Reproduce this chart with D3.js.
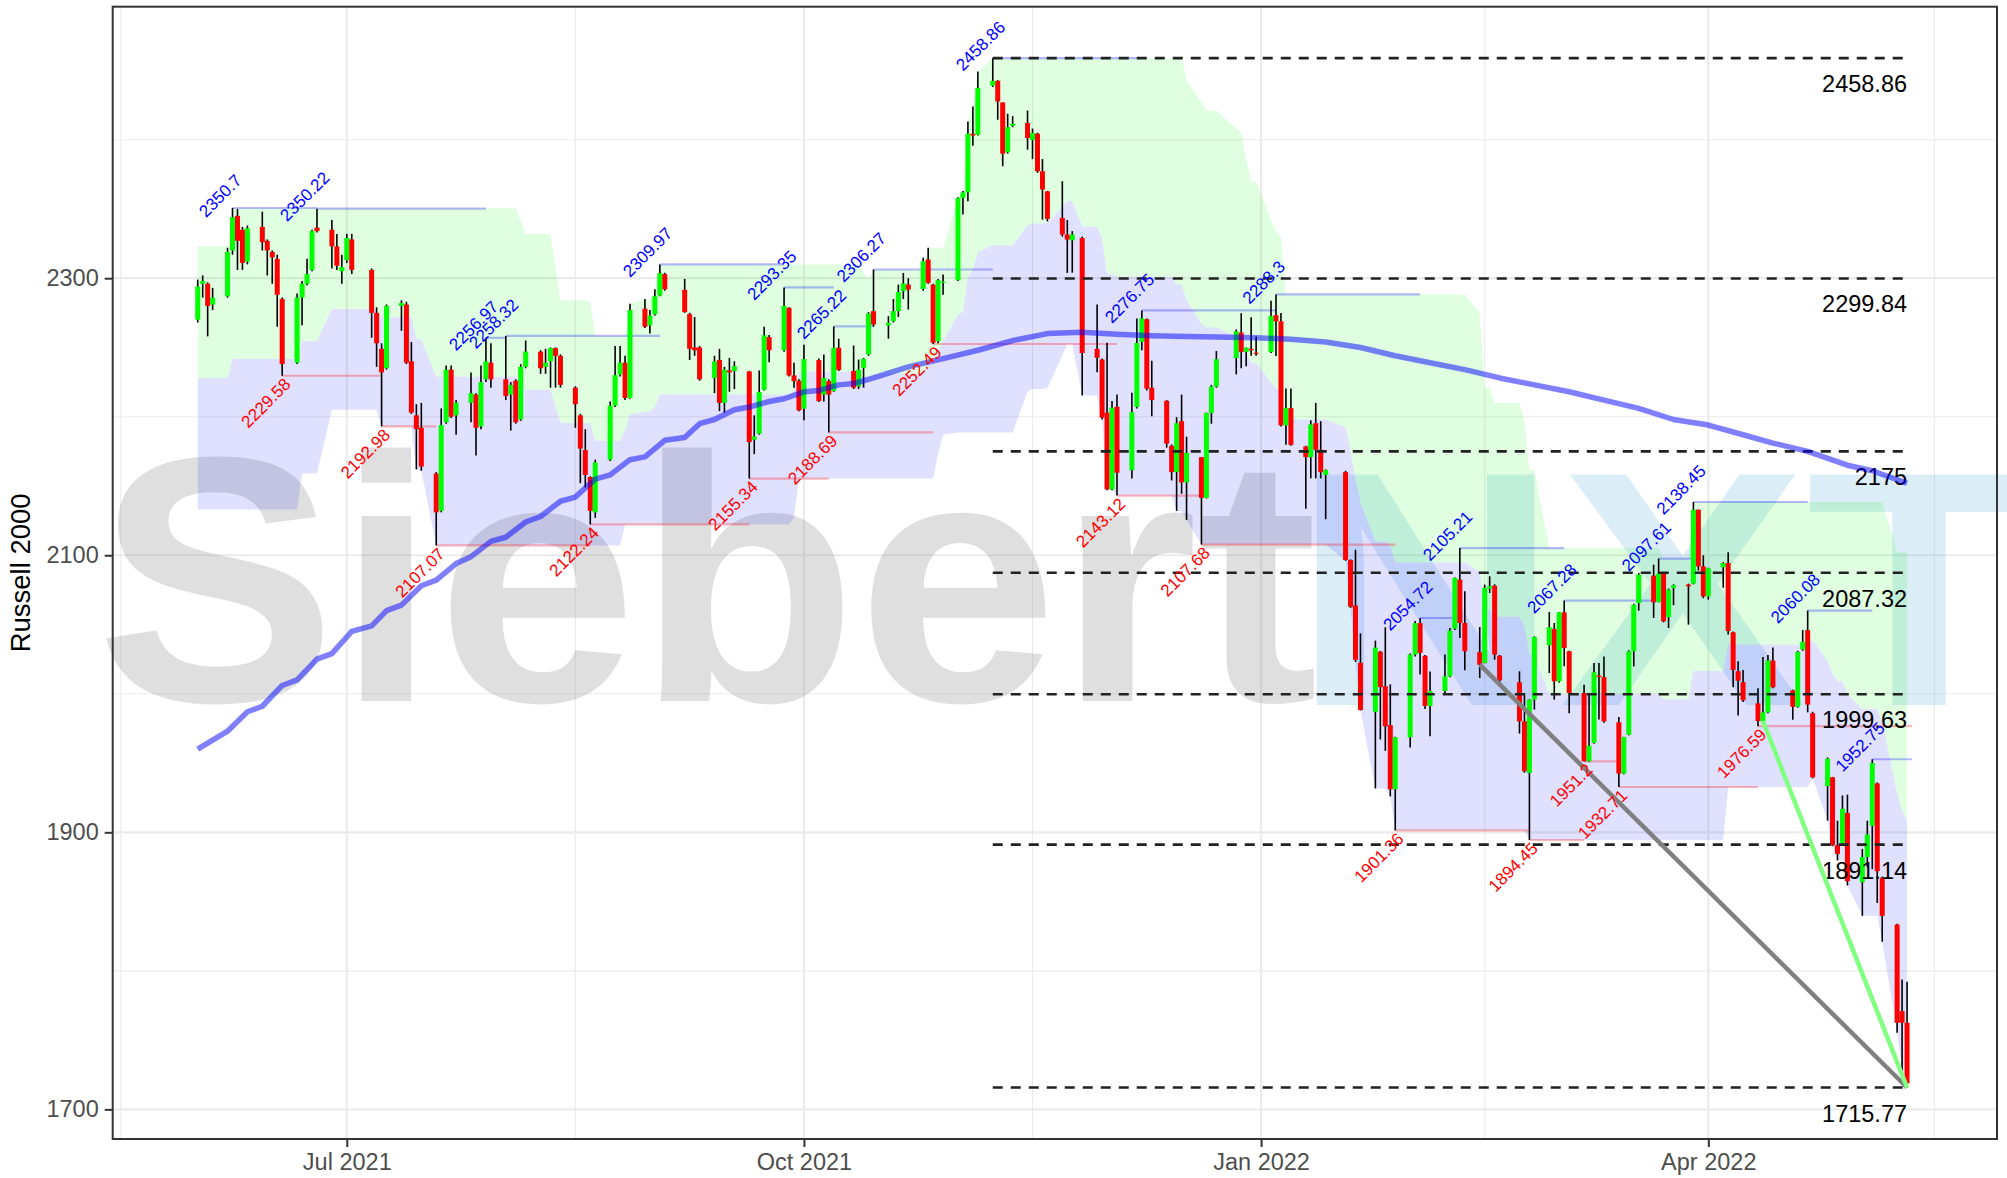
<!DOCTYPE html>
<html><head><meta charset="utf-8">
<script src="https://cdn.jsdelivr.net/npm/d3@7"></script>
<style>html,body{margin:0;padding:0;background:#fff;}svg{display:block;}</style>
</head><body>
<svg id="chart" width="2007" height="1178"></svg>
<script>
// ---------------- DATA ----------------
const dates = [
"2021-06-01","2021-06-02","2021-06-03","2021-06-04","2021-06-07","2021-06-08","2021-06-09","2021-06-10","2021-06-11","2021-06-14","2021-06-15","2021-06-16","2021-06-17","2021-06-18","2021-06-21","2021-06-22","2021-06-23","2021-06-24","2021-06-25","2021-06-28","2021-06-29","2021-06-30",
"2021-07-01","2021-07-02","2021-07-06","2021-07-07","2021-07-08","2021-07-09","2021-07-12","2021-07-13","2021-07-14","2021-07-15","2021-07-16","2021-07-19","2021-07-20","2021-07-21","2021-07-22","2021-07-23","2021-07-26","2021-07-27","2021-07-28","2021-07-29","2021-07-30",
"2021-08-02","2021-08-03","2021-08-04","2021-08-05","2021-08-06","2021-08-09","2021-08-10","2021-08-11","2021-08-12","2021-08-13","2021-08-16","2021-08-17","2021-08-18","2021-08-19","2021-08-20","2021-08-23","2021-08-24","2021-08-25","2021-08-26","2021-08-27","2021-08-30","2021-08-31",
"2021-09-01","2021-09-02","2021-09-03","2021-09-07","2021-09-08","2021-09-09","2021-09-10","2021-09-13","2021-09-14","2021-09-15","2021-09-16","2021-09-17","2021-09-20","2021-09-21","2021-09-22","2021-09-23","2021-09-24","2021-09-27","2021-09-28","2021-09-29","2021-09-30",
"2021-10-01","2021-10-04","2021-10-05","2021-10-06","2021-10-07","2021-10-08","2021-10-11","2021-10-12","2021-10-13","2021-10-14","2021-10-15","2021-10-18","2021-10-19","2021-10-20","2021-10-21","2021-10-22","2021-10-25","2021-10-26","2021-10-27","2021-10-28","2021-10-29",
"2021-11-01","2021-11-02","2021-11-03","2021-11-04","2021-11-05","2021-11-08","2021-11-09","2021-11-10","2021-11-11","2021-11-12","2021-11-15","2021-11-16","2021-11-17","2021-11-18","2021-11-19","2021-11-22","2021-11-23","2021-11-24","2021-11-26","2021-11-29","2021-11-30",
"2021-12-01","2021-12-02","2021-12-03","2021-12-06","2021-12-07","2021-12-08","2021-12-09","2021-12-10","2021-12-13","2021-12-14","2021-12-15","2021-12-16","2021-12-17","2021-12-20","2021-12-21","2021-12-22","2021-12-23","2021-12-27","2021-12-28","2021-12-29","2021-12-30","2021-12-31",
"2022-01-03","2022-01-04","2022-01-05","2022-01-06","2022-01-07","2022-01-10","2022-01-11","2022-01-12","2022-01-13","2022-01-14","2022-01-18","2022-01-19","2022-01-20","2022-01-21","2022-01-24","2022-01-25","2022-01-26","2022-01-27","2022-01-28","2022-01-31",
"2022-02-01","2022-02-02","2022-02-03","2022-02-04","2022-02-07","2022-02-08","2022-02-09","2022-02-10","2022-02-11","2022-02-14","2022-02-15","2022-02-16","2022-02-17","2022-02-18","2022-02-22","2022-02-23","2022-02-24","2022-02-25","2022-02-28",
"2022-03-01","2022-03-02","2022-03-03","2022-03-04","2022-03-07","2022-03-08","2022-03-09","2022-03-10","2022-03-11","2022-03-14","2022-03-15","2022-03-16","2022-03-17","2022-03-18","2022-03-21","2022-03-22","2022-03-23","2022-03-24","2022-03-25","2022-03-28","2022-03-29","2022-03-30","2022-03-31",
"2022-04-01","2022-04-04","2022-04-05","2022-04-06","2022-04-07","2022-04-08","2022-04-11","2022-04-12","2022-04-13","2022-04-14","2022-04-18","2022-04-19","2022-04-20","2022-04-21","2022-04-22","2022-04-25","2022-04-26","2022-04-27","2022-04-28","2022-04-29",
"2022-05-02","2022-05-03","2022-05-04","2022-05-05","2022-05-06","2022-05-09","2022-05-10","2022-05-11"];

const opens = [
2270,2296,2296,2281,2287,2320,2345,2335,2312,2337,2327,2319,2314,2285,2239,2286,2296,2306,2336.5,2335,2323,2305,
2313,2328,2306,2275,2249,2235,2280,2281,2240,2201,2192,2159,2132,2196,2234,2201,2210,2216,2193,2227,2239,
2227,2216,2226,2198,2236,2247,2236,2240,2249.5,2244,2221,2201,2176,2156.5,2131,2169,2208,2230.5,2239,2213.5,2278,2266,
2274,2287.5,2303,2291.6,2274,2250,2250,2228,2241,2210,2233.5,2233,2232.7,2183.4,2187.7,2219.5,2257.5,2248,2278.6,2229.8,2226,
2205.8,2240.9,2216,2225.7,2218.5,2249.8,2233,2222,2235.3,2245,2276.2,2265.9,2269,2276.2,2290.6,2295.4,2292.3,2313.5,2295.4,2254.6,2297,
2298.6,2358,2362,2404.3,2403.6,2439,2442.5,2426.9,2391,2410,2412,2399.8,2404.3,2377.2,2362.7,2343.5,2331.5,2327.4,2329,2249,2241.3,
2203,2147.6,2207.2,2161.4,2207,2254,2270.4,2220.9,2211.5,2179,2160,2196.8,2152.6,2170.8,2141.4,2202.7,2221.8,2242.4,2260.7,2246.8,2249,2246.2,
2246.8,2273.3,2268.9,2193.8,2206.2,2178.5,2170.8,2195.3,2176.2,2158,2160,2096.6,2063.7,2022.4,1987,2030.4,2005.4,1977.4,1931.1,1968.6,
2028.3,2051,2027.4,1991.2,2002,2012.6,2047,2082.4,2051.1,2030,2022.2,2076,2078,2027.5,2008.3,1980.1,1942.9,1995.8,2035,
2046.8,2009,2058.8,2030.7,2000.6,1951.3,1964.5,2013.1,2012,1979.4,1942.4,1970.5,2030.7,2065.5,2085.3,2066.3,2086.7,2055.3,2076.4,2078.8,2079.5,2132.9,2092,
2070.3,2091.3,2094.4,2044.4,2016.3,2008.4,1993.1,1980.3,1986.6,2024,2002.5,1990.6,2031.9,2046,1986,1933.4,1939.7,1890.6,1892.2,1914,
1864,1882.2,1904.7,1935.3,1867.2,1833.4,1770.9,1762.5];

const highs = [
2299,2302,2297,2293,2322,2350.7,2350,2337,2338,2348,2328,2320,2317,2286,2289,2298,2314,2335,2350.22,2342,2332,2317,
2332,2332,2307,2279,2253,2281,2284,2283,2254,2209,2210,2160,2206,2237,2237,2212,2232,2217,2237,2256.97,2253,
2258.32,2225,2227,2238,2255,2248,2249,2250,2250,2245,2222,2202,2191,2157,2169,2211,2251,2251,2244,2281.5,2285,2277,
2292,2309.97,2304,2299.5,2275,2272,2251,2244,2249,2236,2242.5,2240,2233,2201,2233.4,2265,2259,2293.35,2279,2239,2227,
2252,2242,2245,2227,2265.22,2256.3,2251.4,2241.3,2242.5,2275.5,2306.27,2272.6,2285,2295.4,2303.8,2300,2314.7,2321.9,2296,2299.5,2302.6,
2358.5,2363,2413.2,2424,2449.3,2458.86,2443,2427,2418.7,2417,2421,2408,2405,2386,2363,2370,2342,2334,2330,2281,2242,
2253.4,2211.3,2216,2217.4,2271,2276.75,2271,2240.4,2212,2180,2199.7,2216,2185.6,2171,2203,2223,2247.4,2263,2274.8,2250,2271.9,2258,
2283.7,2288.3,2274.8,2220.3,2220.3,2179,2197.4,2210,2196.8,2162,2161,2097,2104,2043.6,2038.4,2031,2048,2006.8,1969,2029,
2052.5,2054.72,2028,2016,2028.3,2047.5,2084,2105.21,2074,2048.2,2078.8,2084.8,2079,2028,2016.2,2000.6,1996,2041.5,2059,
2051.1,2059,2067.28,2031,2006.6,2000.6,2022.2,2022.2,2027,1983.3,1969,2031.4,2065,2087.2,2093.2,2097.61,2087,2076,2079,2079.5,2138.45,2133,2100,
2091,2095,2102.2,2045,2023.4,2017.2,2004,2026.6,2028,2033.4,2003,2031,2046,2060.08,1987,1954,1940,1908.4,1926.6,1927.2,
1888,1908.4,1952.75,1936,1868,1834,1793.7,1792.2];

const lows = [
2268,2286,2258,2277,2286,2317,2306,2306,2310,2320,2302,2296,2265,2229.58,2238,2266,2295,2305,2333,2307,2306,2296,
2311,2303,2257,2236,2192.98,2234,2262,2238,2202,2162,2161,2107.07,2131,2195,2199,2187,2196,2172,2191,2225,2221,
2212,2190,2195,2197,2235,2231,2231,2221,2221,2221,2192,2152,2149,2122.24,2127,2168,2207,2229,2212,2213,2264,2260,
2273,2287,2291,2275,2241,2244,2226,2217,2204,2203,2218,2220,2155.34,2173,2187,2219,2239.4,2247,2229,2221,2204,
2197.5,2210.6,2211,2188.69,2218,2233,2220,2220,2221,2244,2265,2256.3,2268,2272,2285,2277.4,2291,2296,2252.49,2253,2288,
2298,2346,2355.5,2395.7,2403,2438,2414.4,2380.8,2390,2409,2392.8,2386,2376,2342.3,2341,2330,2303.8,2304,2215.4,2232.2,2198,
2147,2147,2143.12,2155.5,2206,2248,2219,2200.3,2177.7,2154,2132,2144.4,2125.5,2107.68,2141,2195,2221,2230.6,2235,2236.5,2244,2244,
2246,2243.9,2193,2179.7,2179,2133.5,2155.5,2155.5,2155.5,2126,2096,2062,2023,1988,1931.7,1967,1958.8,1925.9,1901.36,1961.2,
2027,2014,1989,1969.3,2000.6,2012,2046,2040.3,2017,2011.4,2022,2072.8,2024.6,2005.4,1971.3,1943,1894.45,1988.6,2015,
1995.8,2008,2019.8,1986,1951.2,1951,1964,1981.4,1979,1932.71,1942,1970,2019.8,2060,2054.7,2066,2051.6,2047.5,2064,2049.9,2079,2089,2069,
2068,2076.6,2042.8,2004.7,1984.4,1994,1976.59,1980,1986,2004,1981.3,1990,2031,1986.6,1939,1908.4,1890,1879.7,1891,1861.6,
1839.7,1875,1873.4,1849,1821,1755.3,1727.8,1715.77];

const closes = [
2294,2298,2280,2286,2319,2344,2327,2311,2336,2326,2320,2315,2288,2238,2286,2296,2303,2334,2334,2323,2309,2308,
2329,2306,2275,2253,2232,2280,2282,2239,2203,2191,2164,2131,2194,2234,2200,2210,2217,2192,2225,2240,2227,
2215,2223,2196,2236,2247,2235,2239,2249.5,2244,2223,2209,2177,2158,2132,2167,2208,2230,2239,2213.5,2277,2265,2273,
2287,2303.6,2292,2275.5,2249,2248,2227,2240,2210,2234,2232,2236.5,2181.7,2185.8,2217.8,2258.7,2248,2280,2229.8,2225.7,2204.6,
2241.5,2211.3,2228,2216,2249.8,2233.7,2221,2234,2241.8,2274.5,2266.6,2267.8,2276.2,2290,2296.2,2291.8,2312.3,2296.6,2253.4,2298.6,2297.6,
2357.9,2362,2404.3,2403,2437.3,2442.5,2427.6,2389.9,2409,2411.5,2401.2,2404.8,2377.2,2364,2342.8,2331.5,2327.9,2331.5,2246,2242.5,2199.3,
2147.6,2206.5,2159.6,2203.3,2253.3,2271,2220.3,2212,2180.6,2160,2195.3,2152.6,2173.8,2141.4,2202.7,2221.8,2241.5,2261.6,2246.8,2249.8,2248,2245.3,
2272.7,2268.9,2193.8,2206.2,2179.7,2170.8,2194.4,2176.2,2160,2161.5,2096.6,2062.8,2024.5,1988.3,2033.3,2004.8,1976.5,1931.1,1968.6,2028.3,
2051,2029.5,1991.2,2002,2012.6,2045.6,2083.6,2051.1,2030.7,2021,2076.4,2077.6,2028.3,2009.7,1980.1,1944.1,1995.8,2041,2048,
2009,2058.8,2033,2000.6,1951.3,1962.6,2015.5,2012,1980.1,1942.4,1968.8,2030.7,2064.3,2086,2066,2086.7,2052.3,2075.2,2078.4,2077.6,2132.9,2092,2070.3,
2090.6,2094.4,2045.3,2017.2,2009.4,1995.3,1980.3,1986.6,2024,2004.7,1990.6,2030.3,2037.5,1992.2,1939.7,1953.1,1890.6,1884.4,1917,1864.7,
1882.2,1898.4,1950,1871.9,1839.7,1762.5,1762.5,1718.7];

const upperDates = ["2021-06-01","2021-06-08","2021-08-05","2021-08-06","2021-08-12","2021-08-13","2021-08-19","2021-08-20","2021-08-27","2021-08-30","2021-09-01","2021-09-02","2021-10-13","2021-10-14","2021-10-15","2021-10-26","2021-11-01","2021-11-02","2021-11-03","2021-11-04","2021-11-05","2021-11-08","2021-12-17","2021-12-20","2021-12-21","2021-12-27","2021-12-28","2021-12-29","2021-12-30","2022-01-03","2022-01-04","2022-01-05","2022-01-06","2022-02-14","2022-02-15","2022-02-17","2022-02-23","2022-02-24","2022-02-25","2022-02-28","2022-03-23","2022-03-29","2022-05-09"];
const upperValues = [2323,2350.5,2342,2332,2307,2284,2283,2258.32,2281.5,2285,2292,2309.97,2304,2299.5,2306.27,2321.9,2358.5,2363,2413.2,2424,2449.3,2458.86,2443,2427,2421,2408,2405,2386,2370,2342,2334,2330,2288.3,2274.8,2220.3,2210,2196.8,2162,2161,2105.21,2097.61,2138.45,2102.2];
const lowerDates = ["2021-06-01","2021-06-22","2021-06-28","2021-07-08","2021-07-15","2021-07-16","2021-07-19","2021-08-26","2021-09-29","2021-09-30","2021-10-28","2021-10-29","2021-11-01","2021-11-15","2021-11-16","2021-11-19","2021-11-22","2021-11-23","2021-11-26","2021-11-30","2021-12-01","2021-12-03","2021-12-15","2021-12-17","2021-12-20","2022-01-18","2022-01-19","2022-01-20","2022-01-21","2022-01-24","2022-01-27","2022-01-28","2022-02-24","2022-04-05","2022-04-22","2022-04-25","2022-04-26","2022-04-27","2022-04-29","2022-05-02","2022-05-06","2022-05-09","2022-05-10","2022-05-11"];
const lowerValues = [2133,2159,2205,2192.98,2162,2161,2107.07,2122.24,2127,2155.34,2173,2187,2188.69,2218,2220,2221,2244,2252.49,2215.4,2198,2147,2143.12,2132,2125.5,2107.68,2096,2062,2023,1988,1931.7,1925.9,1901.36,1894.45,1932.71,1939,1908.4,1890,1879.7,1861.6,1839.7,1821,1755.3,1727.8,1715.77];

// moving average (blue line)
const maDates = ["2021-06-01","2021-06-07","2021-06-11","2021-06-14","2021-06-18","2021-06-21","2021-06-25","2021-06-28","2021-07-02","2021-07-06","2021-07-09","2021-07-12","2021-07-16","2021-07-19","2021-07-23","2021-07-26","2021-07-30","2021-08-02","2021-08-06","2021-08-09","2021-08-13","2021-08-16","2021-08-20","2021-08-23","2021-08-27","2021-08-30","2021-09-03","2021-09-07","2021-09-10","2021-09-13","2021-09-17","2021-09-20","2021-09-24","2021-09-27","2021-10-01","2021-10-04","2021-10-08","2021-10-11","2021-10-15","2021-10-22","2021-10-29","2021-11-05","2021-11-12","2021-11-19","2021-11-26","2021-12-03","2021-12-10","2021-12-17","2021-12-23","2021-12-31","2022-01-07","2022-01-14","2022-01-21","2022-01-28","2022-02-04","2022-02-11","2022-02-18","2022-02-25","2022-03-04","2022-03-11","2022-03-18","2022-03-25","2022-04-01","2022-04-08","2022-04-14","2022-04-21","2022-04-29","2022-05-04","2022-05-11"];
const maValues = [1960,1973,1987,1991,2006,2010,2025,2029,2045,2049,2060,2064,2078,2082,2094,2099,2110,2113,2124,2128,2139,2142,2155,2158,2169,2171,2183,2185,2195,2198,2205,2207,2211,2213,2218,2219,2223,2224,2228,2236,2242,2248,2255,2260,2261,2259.5,2258.5,2258,2257.5,2257,2256,2254,2250,2244,2239,2234,2228,2223,2218,2212,2206,2198,2194,2187,2181,2175,2165,2161,2152];

// swing highs / lows
const highLabelDates = ["2021-06-08","2021-06-25","2021-07-29","2021-08-02","2021-09-02","2021-09-27","2021-10-07","2021-10-15","2021-11-08","2021-12-08","2022-01-04","2022-02-02","2022-02-10","2022-03-03","2022-03-22","2022-03-29","2022-04-21","2022-05-04"];
const highLabelValues = [2350.7,2350.22,2256.97,2258.32,2309.97,2293.35,2265.22,2306.27,2458.86,2276.75,2288.3,2054.72,2105.21,2067.28,2097.61,2138.45,2060.08,1952.75];
const lowLabelDates = ["2021-06-18","2021-07-08","2021-07-19","2021-08-19","2021-09-20","2021-10-06","2021-10-27","2021-12-03","2021-12-20","2022-01-28","2022-02-24","2022-03-07","2022-03-14","2022-04-11"];
const lowLabelValues = [2229.58,2192.98,2107.07,2122.24,2155.34,2188.69,2252.49,2143.12,2107.68,1901.36,1894.45,1951.2,1932.71,1976.59];

// Fibonacci retracement levels
const fibLevels = [2458.86,2299.84,2175,2087.32,1999.63,1891.14,1715.77];
const fibLabels = ["2458.86","2299.84","2175","2087.32","1999.63","1891.14","1715.77"];
const fibStart = "2021-11-08", fibEnd = "2022-05-11";

// trend lines
const trendGray = [["2022-02-14",2021],["2022-05-11",1715.77]];
const trendGreen = [["2022-04-12",1980.3],["2022-05-11",1715.77]];

// axes
const yTicks = [1700,1900,2100,2300];
const yMinor = [1800,2000,2200,2400];
const xTicks = ["2021-07-01","2021-10-01","2022-01-01","2022-04-01"];
const xMinor = ["2021-05-16T12","2021-08-16","2021-11-16","2022-02-15","2022-05-16T12"];

// ---------------- DRAW ----------------
const parse = d3.utcParse("%Y-%m-%d");
const parseX = s => s.length > 10 ? d3.utcParse("%Y-%m-%dT%H")(s) : parse(s);
const DAY = 864e5;
const jul1 = Date.UTC(2021,6,1);
const L = 112.7, R = 1997, T = 6.7, B = 1139;
const x = d3.scaleUtc().domain([new Date(jul1 - 47.11*DAY), new Date(jul1 + 332.1*DAY)]).range([L, R]);
const y = d3.scaleLinear().domain([1678.6, 2496.0]).range([B, T]);

const svg = d3.select("#chart");
const FONT = "'Liberation Sans', Arial, Helvetica, sans-serif";
svg.append("rect").attr("width",2007).attr("height",1178).attr("fill","#fff");

const candles = dates.map((d,i)=>({date:parse(d), o:opens[i], h:highs[i], l:lows[i], c:closes[i]}));

// grid
const grid = svg.append("g");
grid.selectAll(".ym").data(yMinor).join("line")
  .attr("x1",L).attr("x2",R).attr("y1",d=>y(d)).attr("y2",d=>y(d))
  .attr("stroke","#ebebeb").attr("stroke-width",1.1);
grid.selectAll(".xm").data(xMinor.map(parseX)).join("line")
  .attr("x1",d=>x(d)).attr("x2",d=>x(d)).attr("y1",T).attr("y2",B)
  .attr("stroke","#ebebeb").attr("stroke-width",1.1);
grid.selectAll(".yM").data(yTicks).join("line")
  .attr("x1",L).attr("x2",R).attr("y1",d=>y(d)).attr("y2",d=>y(d))
  .attr("stroke","#ebebeb").attr("stroke-width",2.2);
grid.selectAll(".xM").data(xTicks.map(parse)).join("line")
  .attr("x1",d=>x(d)).attr("x2",d=>x(d)).attr("y1",T).attr("y2",B)
  .attr("stroke","#ebebeb").attr("stroke-width",2.2);

// watermark
svg.append("text").attr("x",96).attr("y",701)
  .attr("font-family",FONT).attr("font-weight","bold").attr("font-size",350)
  .attr("textLength",1222).attr("lengthAdjust","spacingAndGlyphs")
  .attr("fill","#808080").attr("fill-opacity",0.25).text("Siebert");
svg.append("text").attr("x",1292).attr("y",705)
  .attr("font-family",FONT).attr("font-weight","bold").attr("font-size",335)
  .attr("textLength",740).attr("lengthAdjust","spacingAndGlyphs")
  .attr("fill","#4aa3d6").attr("fill-opacity",0.2).text("NXT");

// channel bands
function stepAt(ds, vs, d){ let v = vs[0]; for(let i=0;i<ds.length;i++){ if(parse(ds[i]) <= d) v = vs[i]; } return v; }
const band = candles.map(c=>{ const u = stepAt(upperDates, upperValues, c.date), lo = stepAt(lowerDates, lowerValues, c.date); return {date:c.date, u:u, l:lo, m:(u+lo)/2}; });
svg.append("path").datum(band)
  .attr("d", d3.area().x(d=>x(d.date)).y0(d=>y(d.m)).y1(d=>y(d.u)))
  .attr("fill","#00ff00").attr("fill-opacity",0.12);
svg.append("path").datum(band)
  .attr("d", d3.area().x(d=>x(d.date)).y0(d=>y(d.l)).y1(d=>y(d.m)))
  .attr("fill","#0000ff").attr("fill-opacity",0.12);

// support / resistance lines
const lastDate = parse(dates[dates.length-1]);
const endExt = new Date(+lastDate + DAY);
function srLines(ds, vs, color){
  const segs = ds.map((d,i)=>({x1:parse(d), x2: i<ds.length-1 ? parse(ds[i+1]) : endExt, v:vs[i]}));
  svg.append("g").selectAll("line").data(segs).join("line")
    .attr("x1",d=>x(d.x1)).attr("x2",d=>x(d.x2)).attr("y1",d=>y(d.v)).attr("y2",d=>y(d.v))
    .attr("stroke",color).attr("stroke-opacity",0.28).attr("stroke-width",2.2);
}
srLines(highLabelDates, highLabelValues, "#0000ff");
srLines(lowLabelDates, lowLabelValues, "#ff0000");

// candles
const cg = svg.append("g");
cg.selectAll("line").data(candles).join("line")
  .attr("x1",d=>x(d.date)).attr("x2",d=>x(d.date)).attr("y1",d=>y(d.h)).attr("y2",d=>y(d.l))
  .attr("stroke","#000").attr("stroke-width",1.6);
cg.selectAll("rect").data(candles).join("rect")
  .attr("x",d=>x(d.date)-2.5).attr("width",5)
  .attr("y",d=>y(Math.max(d.o,d.c)))
  .attr("height",d=>Math.max(1.2, Math.abs(y(d.o)-y(d.c))))
  .attr("fill",d=>d.c>=d.o ? "#00ff00" : "#ff0000");

// fib lines
const fg = svg.append("g");
fg.selectAll("line").data(fibLevels).join("line")
  .attr("x1",x(parse(fibStart))).attr("x2",x(parse(fibEnd)))
  .attr("y1",d=>y(d)).attr("y2",d=>y(d))
  .attr("stroke","#222").attr("stroke-width",2.6).attr("stroke-dasharray","10,8");
fg.selectAll("text").data(fibLevels).join("text")
  .attr("x",x(parse(fibEnd))).attr("y",d=>y(d)+34)
  .attr("text-anchor","end").attr("font-family",FONT).attr("font-size",23.5).attr("fill","#000")
  .text((d,i)=>fibLabels[i]);

// moving average
const ma = maDates.map((d,i)=>({date:parse(d), v:maValues[i]}));
svg.append("path").datum(ma)
  .attr("d", d3.line().x(d=>x(d.date)).y(d=>y(d.v)))
  .attr("fill","none").attr("stroke","#0000ff").attr("stroke-opacity",0.5)
  .attr("stroke-width",5.5).attr("stroke-linejoin","round");

// trend lines
function trend(pts, color){
  svg.append("path").datum(pts.map(p=>({date:parse(p[0]), v:p[1]})))
    .attr("d", d3.line().x(d=>x(d.date)).y(d=>y(d.v)))
    .attr("fill","none").attr("stroke",color).attr("stroke-width",4.5);
}
trend(trendGray, "#808080");
trend(trendGreen, "#80ff80");

// swing labels
const hl = svg.append("g");
hl.selectAll("text").data(highLabelDates).join("text")
  .attr("transform",(d,i)=>`translate(${x(parse(d))},${y(highLabelValues[i])}) rotate(-45)`)
  .attr("x",0).attr("y",-11.5).attr("text-anchor","middle")
  .attr("font-family",FONT).attr("font-size",17).attr("fill","#0000ff")
  .text((d,i)=>String(highLabelValues[i]));
const ll = svg.append("g");
ll.selectAll("text").data(lowLabelDates).join("text")
  .attr("transform",(d,i)=>`translate(${x(parse(d))},${y(lowLabelValues[i])}) rotate(-45)`)
  .attr("x",0).attr("y",13.5).attr("text-anchor","end")
  .attr("font-family",FONT).attr("font-size",17).attr("fill","#ff0000")
  .text((d,i)=>String(lowLabelValues[i]));

// panel border
svg.append("rect").attr("x",L).attr("y",T).attr("width",R-L).attr("height",B-T)
  .attr("fill","none").attr("stroke","#333").attr("stroke-width",2);

// axes
const yAxis = svg.append("g").attr("transform",`translate(${L},0)`)
  .call(d3.axisLeft(y).tickValues(yTicks).tickSize(8).tickPadding(6).tickFormat(d3.format("d")));
const xAxis = svg.append("g").attr("transform",`translate(0,${B})`)
  .call(d3.axisBottom(x).tickValues(xTicks.map(parse)).tickSize(8).tickPadding(6).tickFormat(d3.utcFormat("%b %Y")));
[yAxis, xAxis].forEach(a=>{
  a.select(".domain").remove();
  a.selectAll(".tick line").attr("stroke","#333").attr("stroke-width",2);
  a.selectAll(".tick text").attr("fill","#4d4d4d").attr("font-family",FONT).attr("font-size",23.5);
});

// y title
svg.append("text").attr("transform",`translate(30,${(T+B)/2}) rotate(-90)`)
  .attr("text-anchor","middle").attr("font-family",FONT).attr("font-size",27.5).attr("fill","#000")
  .text("Russell 2000");
</script>
</body></html>
